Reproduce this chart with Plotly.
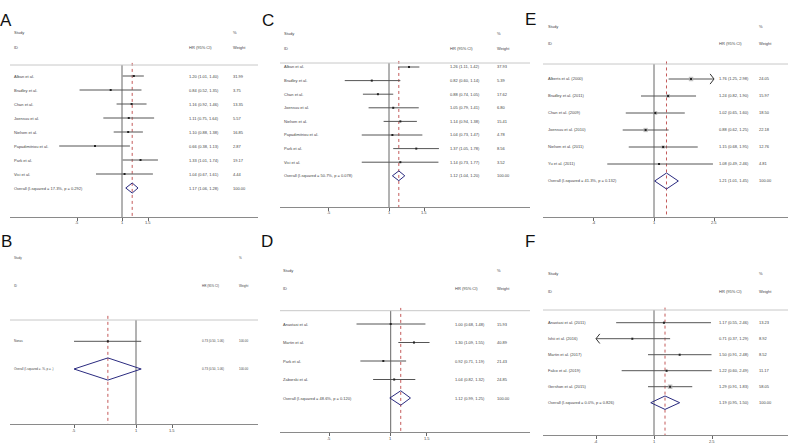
import math
import plotly.graph_objects as go

W, H = 788, 443

# ---- panel A ----
a_study = ["Alban et al.", "Bradley et al.", "Chan et al.", "Joensuu et al.",
           "Nielsen et al.", "Papadimitriou et al.", "Park et al.", "Vici et al."]
a_hr = [1.20, 0.84, 1.16, 1.11, 1.10, 0.66, 1.33, 1.04]
a_lo = [1.01, 0.52, 0.92, 0.75, 0.88, 0.38, 1.01, 0.67]
a_hi = [1.40, 1.35, 1.46, 1.64, 1.38, 1.13, 1.74, 1.61]
a_wt = [31.99, 3.75, 13.35, 5.57, 16.85, 2.87, 19.17, 4.44]
a_overall = [1.17, 1.06, 1.28]
a_overall_label = "Overall (I-squared = 17.3%, p = 0.292)"
a_ticks = [0.5, 1, 1.5]
a_ticktext = [".5", "1", "1.5"]

# ---- panel B ----
b_study = ["Nonas"]
b_hr = [0.73]
b_lo = [0.50]
b_hi = [1.06]
b_wt = [100.00]
b_overall = [0.73, 0.50, 1.06]
b_overall_label = "Overall (I-squared = .%, p = .)"
b_ticks = [0.5, 1, 1.5]
b_ticktext = [".5", "1", "1.5"]

# ---- panel C ----
c_study = ["Alban et al.", "Bradley et al.", "Chan et al.", "Joensuu et al.",
           "Nielsen et al.", "Papadimitriou et al.", "Park et al.", "Vici et al."]
c_hr = [1.26, 0.82, 0.88, 1.05, 1.14, 1.04, 1.37, 1.14]
c_lo = [1.11, 0.60, 0.74, 0.79, 0.94, 0.73, 1.05, 0.73]
c_hi = [1.42, 1.14, 1.05, 1.41, 1.38, 1.47, 1.78, 1.77]
c_wt = [37.93, 5.39, 17.62, 6.80, 15.41, 4.78, 8.56, 3.52]
c_overall = [1.12, 1.04, 1.20]
c_overall_label = "Overall (I-squared = 50.7%, p = 0.078)"
c_ticks = [0.5, 1, 1.5]
c_ticktext = [".5", "1", "1.5"]

# ---- panel D ----
d_study = ["Anastasi et al.", "Martin et al.", "Park et al.", "Zaborski et al."]
d_hr = [1.00, 1.30, 0.92, 1.04]
d_lo = [0.68, 1.09, 0.71, 0.82]
d_hi = [1.48, 1.55, 1.19, 1.32]
d_wt = [15.93, 40.89, 21.43, 24.85]
d_overall = [1.12, 0.99, 1.25]
d_overall_label = "Overall (I-squared = 48.6%, p = 0.120)"
d_ticks = [0.5, 1, 1.5]
d_ticktext = [".5", "1", "1.5"]

# ---- panel E ----
e_study = ["Alberts et al. (2000)", "Bradley et al. (2011)", "Chan et al. (2009)",
           "Joensuu et al. (2010)", "Nielsen et al. (2011)", "Yu et al. (2011)"]
e_hr = [1.76, 1.24, 1.02, 0.88, 1.15, 1.08]
e_lo = [1.25, 0.82, 0.65, 0.62, 0.68, 0.49]
e_hi = [2.98, 1.90, 1.60, 1.25, 1.95, 2.46]
e_wt = [24.05, 15.97, 18.50, 22.18, 12.76, 4.81]
e_overall = [1.21, 1.01, 1.45]
e_overall_label = "Overall (I-squared = 41.3%, p = 0.132)"
e_ticks = [0.4, 1, 2.5]
e_ticktext = [".4", "1", "2.5"]

# ---- panel F ----
f_study = ["Anastasi et al. (2011)", "Ishii et al. (2016)", "Martin et al. (2017)",
           "Falco et al. (2019)", "Gershon et al. (2015)"]
f_hr = [1.17, 0.71, 1.50, 1.22, 1.29]
f_lo = [0.55, 0.37, 0.91, 0.60, 0.91]
f_hi = [2.46, 1.29, 2.48, 2.49, 1.83]
f_wt = [13.23, 8.92, 8.52, 11.17, 58.05]
f_overall = [1.19, 0.95, 1.50]
f_overall_label = "Overall (I-squared = 0.0%, p = 0.826)"
f_ticks = [0.4, 1, 2.5]
f_ticktext = [".4", "1", "2.5"]

# pixel geometry of each panel (layout only)
geo = {
    "A": dict(xl=10, xr=258, x1=122, k=64.9, sx=12, hx=187, wx=231, hdr=33, idy=48,
              sep=65, r0=76, s=14, ax=217, lx=6, ly=21, dh=0.36, box=0.35, fs=4, clip=False),
    "B": dict(xl=10, xr=258, x1=136, k=89.4, sx=12, hx=200, wx=237, hdr=258, idy=286,
              sep=320, r0=341.3, s=27.7, ax=424, lx=6, ly=241, dh=0.40, box=0.2, fs=3, clip=False),
    "C": dict(xl=280, xr=530, x1=389, k=86.6, sx=282, hx=448, wx=495, hdr=34, idy=49,
              sep=63, r0=67, s=13.6, ax=207, lx=268, ly=21, dh=0.36, box=0.35, fs=4, clip=False),
    "D": dict(xl=280, xr=530, x1=390.7, k=88.6, sx=281, hx=453, wx=495, hdr=270, idy=288,
              sep=310.7, r0=324, s=18.5, ax=432, lx=267, ly=241, dh=0.39, box=0.35, fs=4, clip=False),
    "E": dict(xl=543, xr=788, x1=654, k=65.5, sx=546, hx=717, wx=757, hdr=27, idy=44,
              sep=64, r0=79, s=17, ax=217, lx=530, ly=19, dh=0.47, box=0.9, fs=4, clip=True),
    "F": dict(xl=543, xr=788, x1=654, k=63.3, sx=546, hx=717, wx=757, hdr=273, idy=291,
              sep=310, r0=322.7, s=16, ax=435.3, lx=530, ly=241, dh=0.42, box=0.6, fs=4, clip=True),
}

panels = [
    ("A", a_study, a_hr, a_lo, a_hi, a_wt, a_overall, a_overall_label, a_ticks, a_ticktext),
    ("B", b_study, b_hr, b_lo, b_hi, b_wt, b_overall, b_overall_label, b_ticks, b_ticktext),
    ("C", c_study, c_hr, c_lo, c_hi, c_wt, c_overall, c_overall_label, c_ticks, c_ticktext),
    ("D", d_study, d_hr, d_lo, d_hi, d_wt, d_overall, d_overall_label, d_ticks, d_ticktext),
    ("E", e_study, e_hr, e_lo, e_hi, e_wt, e_overall, e_overall_label, e_ticks, e_ticktext),
    ("F", f_study, f_hr, f_lo, f_hi, f_wt, f_overall, f_overall_label, f_ticks, f_ticktext),
]

TXT = "#444"
FONT = "Liberation Sans, Arial, sans-serif"

fig = go.Figure()
annotations = []
shapes = []

for n, (letter, study, hr, lo, hi, wt, ov, ov_label, ticks, ticktext) in enumerate(panels, start=1):
    g = geo[letter]
    xa = "x" if n == 1 else "x%d" % n
    ya = "y" if n == 1 else "y%d" % n
    nrow = len(study)

    def yv(py):
        return (py - g["r0"]) / g["s"]

    def xd(px):
        return (px - g["xl"]) / (g["xr"] - g["xl"])

    top = g["hdr"] - 6
    xrange = [(g["xl"] - g["x1"]) / g["k"] / math.log(10),
              (g["xr"] - g["x1"]) / g["k"] / math.log(10)]
    fig.update_layout(**{
        "xaxis" if n == 1 else "xaxis%d" % n: dict(
            type="log", range=xrange, domain=[g["xl"] / W, g["xr"] / W],
            anchor=ya, showgrid=False, zeroline=False, showline=True,
            linecolor="#8a8a8a", linewidth=1, ticks="outside", ticklen=3,
            tickcolor="#666", tickvals=ticks, showticklabels=False),
        "yaxis" if n == 1 else "yaxis%d" % n: dict(
            range=[yv(g["ax"]), yv(top)], domain=[1 - g["ax"] / H, 1 - top / H],
            anchor=xa, visible=False, showgrid=False, zeroline=False),
    })

    tmin, tmax = min(ticks), max(ticks)
    y_sep = yv(g["sep"])
    y_ax = yv(g["ax"])

    # reference line at 1 and dashed overall line
    fig.add_trace(go.Scatter(x=[1, 1], y=[y_sep, y_ax], mode="lines",
                             line=dict(color="#666", width=1),
                             xaxis=xa, yaxis=ya, hoverinfo="skip", showlegend=False))
    fig.add_trace(go.Scatter(x=[ov[0], ov[0]], y=[y_sep - 0.15, y_ax], mode="lines",
                             line=dict(color="#c45a5a", width=1, dash="dot"),
                             xaxis=xa, yaxis=ya, hoverinfo="skip", showlegend=False))

    # confidence intervals (clipped at outer ticks with arrows where the panel does that)
    cx, cy = [], []
    arrows_x, arrows_y = [], []
    f = math.exp(0.06)
    for i in range(nrow):
        l, h = lo[i], hi[i]
        if g["clip"] and lo[i] < tmin:
            l = tmin
            arrows_x += [tmin * f, tmin, tmin * f, None]
            arrows_y += [i - 0.3, i, i + 0.3, None]
        if g["clip"] and hi[i] > tmax:
            h = tmax
            arrows_x += [tmax / f, tmax, tmax / f, None]
            arrows_y += [i - 0.3, i, i + 0.3, None]
        cx += [l, h, None]
        cy += [i, i, None]
    fig.add_trace(go.Scatter(x=cx, y=cy, mode="lines", line=dict(color="#555", width=1),
                             xaxis=xa, yaxis=ya, hoverinfo="skip", showlegend=False))
    if arrows_x:
        fig.add_trace(go.Scatter(x=arrows_x, y=arrows_y, mode="lines",
                                 line=dict(color="#333", width=1),
                                 xaxis=xa, yaxis=ya, hoverinfo="skip", showlegend=False))

    # weight boxes and point estimates
    fig.add_trace(go.Scatter(x=hr, y=list(range(nrow)), mode="markers",
                             marker=dict(symbol="square", color="#a8a8a8",
                                         size=[g["box"] * math.sqrt(w) for w in wt],
                                         line=dict(width=0)),
                             xaxis=xa, yaxis=ya, hoverinfo="skip", showlegend=False))
    fig.add_trace(go.Scatter(x=hr, y=list(range(nrow)), mode="markers",
                             marker=dict(symbol="square", color="#222", size=2),
                             xaxis=xa, yaxis=ya, hoverinfo="skip", showlegend=False))

    # overall diamond
    dh = g["dh"]
    fig.add_trace(go.Scatter(x=[ov[1], ov[0], ov[2], ov[0], ov[1]],
                             y=[nrow, nrow - dh, nrow, nrow + dh, nrow], mode="lines",
                             line=dict(color="#2b2b80", width=1),
                             xaxis=xa, yaxis=ya, hoverinfo="skip", showlegend=False))

    # separator under header
    shapes.append(dict(type="line", xref=xa + " domain", yref=ya, x0=0, x1=1,
                       y0=y_sep, y1=y_sep, line=dict(color="#c8c8c8", width=1)))

    fs = g["fs"]

    def txt(px, y, s):
        annotations.append(dict(text=s, xref=xa + " domain", yref=ya, x=xd(px), y=y,
                                xanchor="left", yanchor="middle", showarrow=False,
                                font=dict(size=fs, color=TXT, family=FONT)))

    txt(g["sx"], yv(g["hdr"]), "Study")
    txt(g["sx"], yv(g["idy"]), "ID")
    txt(g["hx"], yv(g["idy"]), "HR (95% CI)")
    txt(g["wx"], yv(g["hdr"]), "%")
    txt(g["wx"], yv(g["idy"]), "Weight")
    for i in range(nrow):
        txt(g["sx"], i, study[i])
        txt(g["hx"], i, "%.2f (%.2f, %.2f)" % (hr[i], lo[i], hi[i]))
        txt(g["wx"], i, "%.2f" % wt[i])
    txt(g["sx"], nrow, ov_label)
    txt(g["hx"], nrow, "%.2f (%.2f, %.2f)" % tuple(ov))
    txt(g["wx"], nrow, "100.00")

    # tick labels just under the axis line (paper y so they are not hidden)
    for t, tt in zip(ticks, ticktext):
        annotations.append(dict(text=tt, xref=xa, yref="paper", x=math.log10(t),
                                y=1 - (g["ax"] + 6) / H, xanchor="center", yanchor="middle",
                                showarrow=False,
                                font=dict(size=4, color=TXT, family=FONT)))

    annotations.append(dict(text=letter, xref="paper", yref="paper",
                            x=g["lx"] / W, y=1 - g["ly"] / H, xanchor="center",
                            yanchor="middle", showarrow=False,
                            font=dict(size=17, color="#111", family=FONT)))

fig.update_layout(width=W, height=H, margin=dict(l=0, r=0, t=0, b=0),
                  paper_bgcolor="white", plot_bgcolor="white",
                  annotations=annotations, shapes=shapes, showlegend=False)

fig.write_html("out.html", config={"displayModeBar": False},
               post_script="document.body.style.margin='0px';")
